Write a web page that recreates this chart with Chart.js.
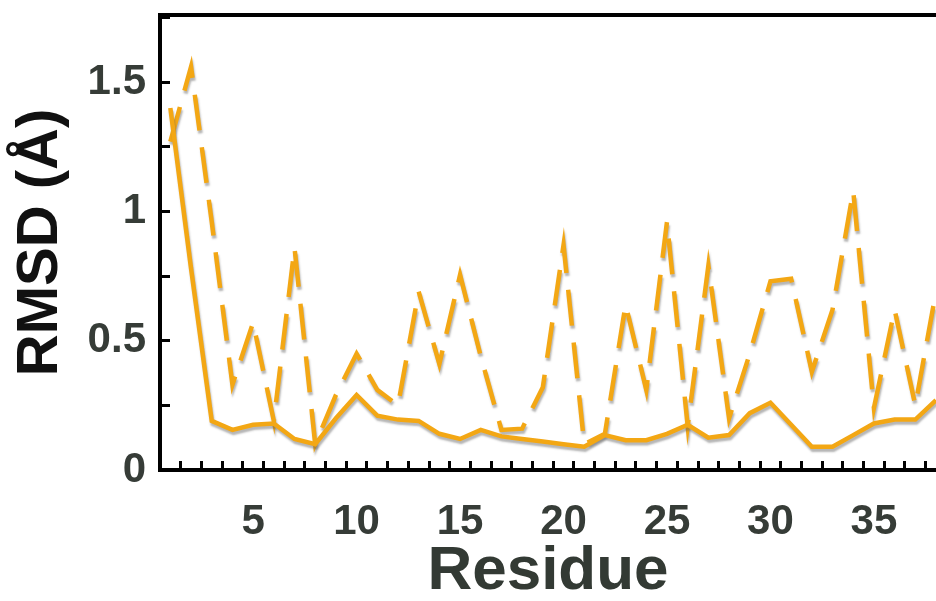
<!DOCTYPE html>
<html>
<head>
<meta charset="utf-8">
<script src="https://cdn.jsdelivr.net/npm/chart.js@4.4.1/dist/chart.umd.min.js"></script>
<style>
  html, body { margin: 0; padding: 0; background: #ffffff; }
  #wrap { width: 936px; height: 601px; }
</style>
</head>
<body>
<div id="wrap"><canvas id="c" width="936" height="601"></canvas></div>
<script>
// ---- data ----
const residues = [1,2,3,4,5,6,7,8,9,10,11,12,13,14,15,16,17,18,19,20,21,22,23,24,25,26,27,28,29,30,31,32,33,34,35,36,37,38];
const solidRmsd = [1.40,0.78,0.19,0.155,0.175,0.18,0.12,0.10,0.20,0.29,0.21,0.195,0.19,0.14,0.12,0.155,0.13,0.12,0.11,0.10,0.09,0.135,0.115,0.115,0.14,0.175,0.125,0.135,0.22,0.26,0.175,0.09,0.09,0.135,0.18,0.195,0.195,0.27];
const dashedRmsd = [1.27,1.56,0.96,0.33,0.57,0.19,0.86,0.10,0.29,0.45,0.31,0.25,0.69,0.41,0.755,0.44,0.155,0.16,0.32,0.87,0.10,0.14,0.64,0.31,0.96,0.17,0.79,0.20,0.45,0.73,0.74,0.38,0.62,1.08,0.24,0.62,0.25,0.69];
const xTickLabels = ['5','10','15','20','25','30','35'];
const yTickValues = [0,0.25,0.5,0.75,1,1.25,1.5,1.75];
const yTickLabels = ['0','','0.5','','1','','1.5',''];
const xTitle = 'Residue';
const yTitle = 'RMSD (Å)';

const orange = '#F3A714';
const labelColor = '#363c37';
const FONT = '"Liberation Sans", Arial, Helvetica, sans-serif';

const toPts = arr => residues.map((r, i) => ({x: r, y: arr[i]}));

const noPad = s => { s.paddingTop = 0; s.paddingBottom = 0; s.paddingLeft = 0; s.paddingRight = 0; };

const shadowPlugin = {
  id: 'lineShadow',
  beforeDatasetDraw(chart) {
    const ctx = chart.ctx;
    ctx.save();
    ctx.shadowColor = 'rgba(90,90,90,0.45)';
    ctx.shadowOffsetX = 1;
    ctx.shadowOffsetY = 3;
    ctx.shadowBlur = 2;
  },
  afterDatasetDraw(chart) { chart.ctx.restore(); }
};

new Chart(document.getElementById('c'), {
  type: 'line',
  data: {
    datasets: [
      { label: 'solid', data: toPts(solidRmsd), borderColor: orange, borderWidth: 4.5,
        pointRadius: 0, tension: 0, fill: false },
      { label: 'dashed', data: toPts(dashedRmsd), borderColor: orange, borderWidth: 4.5,
        borderDash: [36, 17], pointRadius: 0, tension: 0, fill: false }
    ]
  },
  options: {
    responsive: false,
    animation: false,
    devicePixelRatio: 1,
    layout: { padding: { top: 15, right: 0, left: 0, bottom: 0 } },
    plugins: { legend: { display: false }, tooltip: { enabled: false } },
    scales: {
      x: {
        type: 'linear', position: 'bottom', min: 0.5, max: 38,
        afterBuildTicks: s => {
          const t = [];
          for (let v = 1.5; v < 38; v += 1) t.push({ value: v });
          s.ticks = t;
        },
        afterFit: s => { s.height = 131; noPad(s); },
        grid: { display: true, drawOnChartArea: false, drawTicks: true, tickLength: -9,
                color: '#000', lineWidth: 3 },
        border: { display: true, color: '#000', width: 4 },
        ticks: {
          autoSkip: false, maxRotation: 0, minRotation: 0, padding: 36,
          labelOffset: 10.35,
          color: labelColor, font: { family: FONT, size: 42, weight: 'bold' },
          callback: v => {
            const s = String(Math.round(v + 0.5));
            return xTickLabels.includes(s) && Math.abs((v + 0.5) - Math.round(v + 0.5)) < 1e-6 ? s : '';
          }
        },
        title: { display: true, text: xTitle, color: '#333a34',
                 font: { family: FONT, size: 62, weight: 'bold' }, padding: { top: 0, bottom: -8 } }
      },
      xTop: {
        type: 'linear', position: 'top', min: 0.5, max: 38,
        afterFit: s => { s.height = 0; noPad(s); },
        grid: { display: false, drawTicks: false },
        border: { display: true, color: '#000', width: 4 },
        ticks: { display: false }
      },
      y: {
        type: 'linear', position: 'left', min: 0, max: 1.76,
        afterBuildTicks: s => { s.ticks = yTickValues.map(v => ({ value: v })); },
        afterFit: s => { s.width = 160; noPad(s); },
        grid: { display: true, drawOnChartArea: false, drawTicks: true, tickLength: -10,
                color: '#000', lineWidth: 3 },
        border: { display: true, color: '#000', width: 4 },
        ticks: {
          autoSkip: false, padding: 24,
          color: labelColor, font: { family: FONT, size: 42, weight: 'bold' },
          callback: v => {
            const i = yTickValues.findIndex(t => Math.abs(t - v) < 1e-6);
            return i >= 0 ? yTickLabels[i] : '';
          }
        },
        title: { display: true, text: yTitle, color: '#111111',
                 font: { family: FONT, size: 58, weight: 'bold' }, padding: { top: 6, bottom: 0 } }
      }
    }
  },
  plugins: [shadowPlugin]
});
</script>
</body>
</html>
